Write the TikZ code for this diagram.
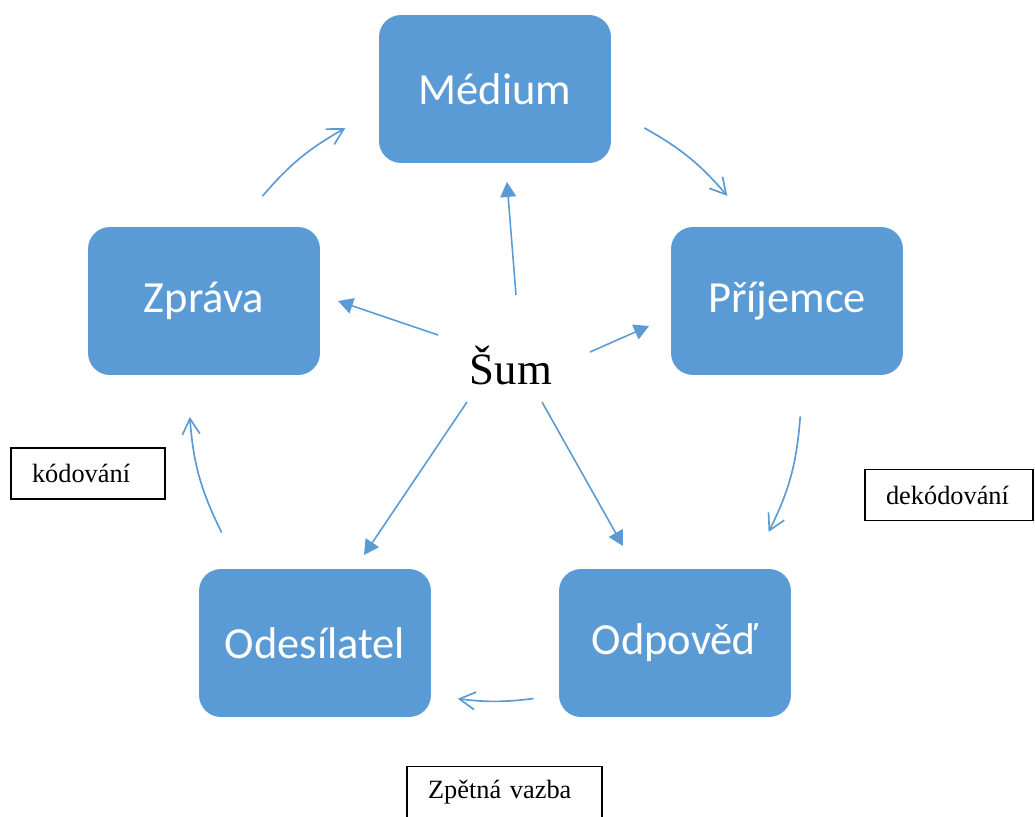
\documentclass[tikz,border=0pt]{standalone}
\usepackage{fontspec}
\setmainfont{Liberation Serif}
\newfontfamily\boxfont{Carlito}
\usetikzlibrary{arrows.meta,calc}
\definecolor{Box}{HTML}{5B9BD5}
\definecolor{Flow}{HTML}{5B9BD5}

\begin{document}
\begin{tikzpicture}[x=0.02cm,y=-0.02cm,
  stage/.style={rectangle,rounded corners=0.44cm,fill=Box,minimum width=4.64cm,minimum height=2.96cm,inner sep=0pt,font=\boxfont\fontsize{25.3}{30}\selectfont,text=white},
  note/.style={draw=black,line width=0.8pt,minimum height=1.02cm,inner xsep=0.42cm,inner ysep=0pt,align=left,font=\fontsize{15}{18}\selectfont},
  turn/.style={draw=Flow,line width=0.95pt,line cap=round,-{Straight Barb[length=9pt,width=10pt]}},
  spoke/.style={draw=Flow,line width=0.9pt,-{Triangle[length=8.5pt,width=9pt]}}]
\useasboundingbox (0,0) rectangle (1035,816);

% the five stages
\node[stage] (medium) at (495,89) {Médium};
\node[stage] (zprava) at (204,301) {Zpráva};
\node[stage] (prijemce) at (787,301) {Příjemce};
\node[stage] (odesilatel) at (315,643) {Odesílatel};
\node[stage] (odpoved) at (675,643) {Odpověď};

% noise in the middle
\node[font=\fontsize{25.5}{30}\selectfont,anchor=base] (sum) at (511,384) {Šum};

% side notes
\node[note,text width=2.24cm] (kodovani) at (88,473.5) {kódování};
\node[note,text width=2.52cm] (dekodovani) at (949,495) {dekódování};
\node[note,text width=3.06cm] (vazba) at (504.5,792) {Zpětná vazba};

% outer cycle
\coordinate (ctr) at (495,395);
\coordinate (zprava-out) at ($(ctr)+(220.6:306)$);
\coordinate (medium-in) at ($(ctr)+(240.7:306)$);
\coordinate (medium-out) at ($(ctr)+(299.3:306)$);
\coordinate (prijemce-in) at ($(ctr)+(319.4:306)$);
\coordinate (prijemce-out) at ($(ctr)+(4.1:306)$);
\coordinate (odpoved-in) at ($(ctr)+(26.6:306)$);
\coordinate (odpoved-out) at ($(ctr)+(82.9:306)$);
\coordinate (odesilatel-in) at ($(ctr)+(97:306)$);
\coordinate (odesilatel-out) at ($(ctr)+(153.4:306)$);
\coordinate (zprava-in) at ($(ctr)+(175.9:306)$);
\draw[turn] (zprava-out) to[bend left=10] (medium-in);
\draw[turn] (medium-out) to[bend left=10] (prijemce-in);
\draw[turn] (prijemce-out) to[bend left=11] (odpoved-in);
\draw[turn] (odpoved-out) to[bend left=7] (odesilatel-in);
\draw[turn] (odesilatel-out) to[bend left=11] (zprava-in);

% spokes from the noise
\coordinate (sum-m) at (516,295);
\coordinate (medium-s) at (507,182);
\coordinate (sum-z) at (438,335);
\coordinate (zprava-s) at (338,301);
\coordinate (sum-p) at (590,352);
\coordinate (prijemce-s) at (649,326);
\coordinate (sum-o) at (467,402);
\coordinate (odesilatel-s) at (364,555);
\coordinate (sum-d) at (542,402);
\coordinate (odpoved-s) at (623,546);
\draw[spoke] (sum-m) -- (medium-s);
\draw[spoke] (sum-z) -- (zprava-s);
\draw[spoke] (sum-p) -- (prijemce-s);
\draw[spoke] (sum-o) -- (odesilatel-s);
\draw[spoke] (sum-d) -- (odpoved-s);
\end{tikzpicture}
\end{document}
